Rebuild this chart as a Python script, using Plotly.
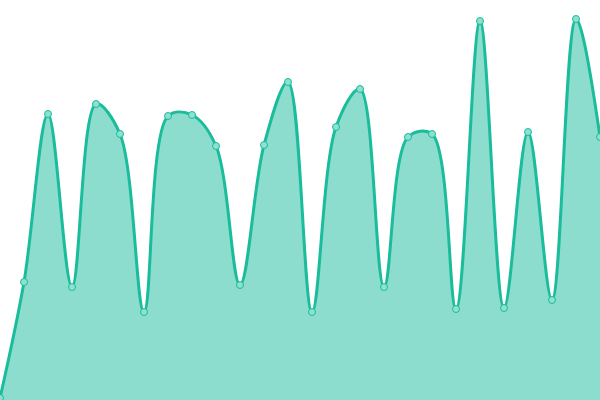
import plotly.graph_objects as go

x_vals = list(range(0, 601, 24))
y_pixels = [398, 282, 114, 287, 104, 134, 312, 116, 115, 146, 285, 145, 82, 312,
            127, 89, 287, 137, 134, 309, 21, 308, 132, 300, 19, 137]
values = [400 - p for p in y_pixels]

line_color = "#1abc9c"
fill_color = "rgba(26,188,156,0.5)"

fig = go.Figure(go.Scatter(
    x=x_vals, y=values,
    mode="lines+markers",
    line=dict(color=line_color, width=3, shape="spline", smoothing=1),
    fill="tozeroy", fillcolor=fill_color,
    marker=dict(size=7, color="#8ee0cf", line=dict(color=line_color, width=1)),
    hoverinfo="skip",
))
fig.update_layout(
    width=600, height=400,
    margin=dict(l=0, r=0, t=0, b=0),
    paper_bgcolor="white", plot_bgcolor="white",
    showlegend=False,
    xaxis=dict(visible=False, range=[0, 600]),
    yaxis=dict(visible=False, range=[0, 400]),
)
fig.write_html("out.html",
               config={"displayModeBar": False, "staticPlot": True},
               post_script="document.body.style.margin='0';document.body.style.overflow='hidden';")
